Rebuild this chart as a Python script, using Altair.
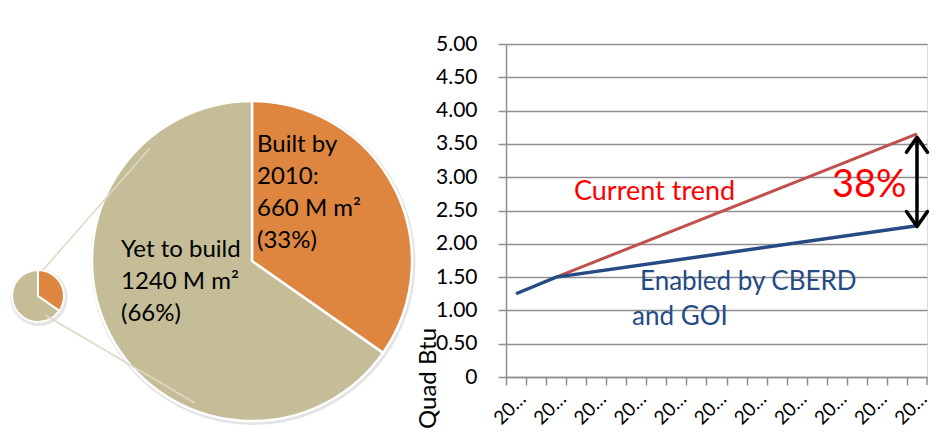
import altair as alt
import pandas as pd

# ---- data -------------------------------------------------------------
years = ["2010", "2011", "2012", "2013", "2014", "2015", "2016", "2017",
         "2018", "2019", "2020", "2021", "2022", "2023", "2024", "2025",
         "2026", "2027", "2028", "2029", "2030"]

trend_years = ["2012", "2030"]
trend_values = [1.50, 3.65]          # Quad Btu, current trend

cberd_years = ["2010", "2012", "2030"]
cberd_values = [1.25, 1.50, 2.27]    # Quad Btu, enabled by CBERD and GOI

arrow_year = "2030"
arrow_top = 3.60
arrow_bottom = 2.26

segments = ["Built by 2010", "Yet to build"]
floor_area = [660, 1240]             # million m²
segment_order = [0, 1]
segment_colors = ["#DE8640", "#C4BD97"]

built_text = ["Built by", "2010:", "660 M m²", "(33%)"]
yet_text = ["Yet to build", "1240 M m²", "(66%)"]

y_ticks = [0, 0.5, 1.0, 1.5, 2.0, 2.5, 3.0, 3.5, 4.0, 4.5, 5.0]

# ---- tables -----------------------------------------------------------
trend_df = pd.DataFrame({"year": trend_years, "value": trend_values})
cberd_df = pd.DataFrame({"year": cberd_years, "value": cberd_values})
pie_df = pd.DataFrame({"segment": segments, "area": floor_area, "order": segment_order})
arrow_df = pd.DataFrame({"year": [arrow_year], "top": [arrow_top], "bottom": [arrow_bottom]})
last_year_df = pd.DataFrame({"year": [years[-1]]})
one = pd.DataFrame({"k": [0]})

FONT = "Lato"
GRID = "#8F8F8F"
RED_LINE = "#C0504D"
BLUE_LINE = "#254A84"

WIDTH = 421
HEIGHT = 333
HALF_STEP = WIDTH / len(years) / 2

x_enc = alt.X(
    "year:O",
    scale=alt.Scale(type="band", domain=years, paddingInner=0, paddingOuter=0),
    axis=alt.Axis(
        title=None,
        # ticks sit on the band edges, labels stay centred on each year
        tickOffset=-HALF_STEP,
        labelOffset=HALF_STEP,
        labelExpr="(toNumber(datum.value) - 2010) % 2 == 0 ? '20…' : ''",
        labelAngle=-45,
        labelAlign="right",
        labelBaseline="top",
        labelFontSize=19,
        labelOverlap=False,
        labelPadding=4,
        tickSize=8,
        tickColor=GRID,
        tickWidth=1.5,
        domainColor=GRID,
        domainWidth=1.5,
        grid=False,
        labelColor="black",
    ),
)
y_scale = alt.Scale(domain=[0, 5], nice=False, zero=True)
y_axis = alt.Axis(
    values=y_ticks,
    tickCount=11,
    labelOverlap=False,
    labelExpr="datum.value == 0 ? '0' : format(datum.value, '.2f')",
    labelFontSize=21,
    labelPadding=21,
    labelColor="black",
    tickSize=8,
    tickColor=GRID,
    tickWidth=1.5,
    domainColor=GRID,
    domainWidth=1.5,
    grid=True,
    gridColor=GRID,
    gridWidth=1.5,
    title="Quad Btu",
    titleAngle=-90,
    titleX=-71,
    titleY=334,
    titleAlign="center",
    titleBaseline="alphabetic",
    titleFontSize=24,
    titleFontWeight="normal",
    titleColor="black",
)

# ---- line chart -------------------------------------------------------
trend_line = alt.Chart(trend_df).mark_line(color=RED_LINE, strokeWidth=3).encode(
    x=x_enc,
    y=alt.Y("value:Q", scale=y_scale, axis=y_axis),
)
cberd_line = alt.Chart(cberd_df).mark_line(color=BLUE_LINE, strokeWidth=3.5).encode(
    x=alt.X("year:O"),
    y=alt.Y("value:Q"),
)

# closing tick at the right end of the last year's band
end_tick = alt.Chart(last_year_df).mark_rule(color=GRID, strokeWidth=1.5).encode(
    x=alt.X("year:O", bandPosition=1),
    y=alt.value(HEIGHT),
    y2=alt.value(HEIGHT + 8),
)

arrow_shaft = alt.Chart(arrow_df).mark_rule(color="black", strokeWidth=3.5).encode(
    x=alt.X("year:O"), y=alt.Y("top:Q"), y2="bottom:Q"
)
arrow_up = alt.Chart(arrow_df).mark_point(
    shape="M-0.7,1L0,0L0.7,1", size=900, filled=False, stroke="black",
    strokeWidth=3.5, strokeCap="round", strokeJoin="round", opacity=1,
).encode(x=alt.X("year:O"), y=alt.Y("top:Q"))
arrow_down = alt.Chart(arrow_df).mark_point(
    shape="M-0.7,-1L0,0L0.7,-1", size=900, filled=False, stroke="black",
    strokeWidth=3.5, strokeCap="round", strokeJoin="round", opacity=1,
).encode(x=alt.X("year:O"), y=alt.Y("bottom:Q"))


def note(text, x, y, size, color):
    return alt.Chart(one).mark_text(
        align="left", baseline="alphabetic", font=FONT, fontSize=size, color=color
    ).encode(x=alt.value(x), y=alt.value(y), text=alt.value(text))


notes = [
    note("Current trend", 68, 156, 27, "#FF0000"),
    note("38%", 326, 153, 38, "#FF0000"),
    note("Enabled by CBERD", 134, 246, 26, BLUE_LINE),
    note("and GOI", 126, 281, 26, BLUE_LINE),
]

# ---- pie (drawn to the left of the plot area) ------------------------
theta = alt.Theta("area:Q", stack=True)
color = alt.Color("segment:N", scale=alt.Scale(domain=segments, range=segment_colors), legend=None)


def soft_shadow(cx, cy, r):
    # faint disc just behind a pie, offset down-right
    return alt.Chart(one).mark_arc(
        radius=r, theta=0, theta2=6.2832, color="#D9D9D9", opacity=0.7
    ).encode(x=alt.value(cx + 1), y=alt.value(cy + 1.5))


small_shadow = soft_shadow(-468, 252, 28.5)
big_shadow = soft_shadow(-254, 217, 162.5)

small_pie = alt.Chart(pie_df).mark_arc(radius=26, stroke="white", strokeWidth=2).encode(
    theta=theta, color=color, order=alt.Order("order:Q"),
    x=alt.value(-468), y=alt.value(252),
)
big_pie = alt.Chart(pie_df).mark_arc(radius=160, stroke="white", strokeWidth=2.5).encode(
    theta=theta, color=color, order=alt.Order("order:Q"),
    x=alt.value(-254), y=alt.value(217),
)
zoom_top = alt.Chart(one).mark_rule(color="#DDD9C3", strokeWidth=1.5).encode(
    x=alt.value(-463), y=alt.value(226), x2=alt.value(-356), y2=alt.value(104)
)
zoom_bottom = alt.Chart(one).mark_rule(color="#DDD9C3", strokeWidth=1.5).encode(
    x=alt.value(-461), y=alt.value(271), x2=alt.value(-311), y2=alt.value(359)
)
built_label = alt.Chart(one).mark_text(
    align="left", baseline="alphabetic", font=FONT, fontSize=24, lineHeight=32, color="black"
).encode(x=alt.value(-249), y=alt.value(108), text=alt.value(built_text))
yet_label = alt.Chart(one).mark_text(
    align="left", baseline="alphabetic", font=FONT, fontSize=24, lineHeight=32, color="black"
).encode(x=alt.value(-385), y=alt.value(213), text=alt.value(yet_text))

chart = alt.layer(
    trend_line, cberd_line, end_tick, arrow_shaft, arrow_up, arrow_down, *notes,
    small_shadow, big_shadow, small_pie, big_pie, zoom_top, zoom_bottom,
    built_label, yet_label,
).properties(
    width=WIDTH,
    height=HEIGHT,
    autosize=alt.AutoSizeParams(type="none"),
    padding={"left": 506, "top": 44, "right": 15, "bottom": 56},
    background="white",
).configure_view(stroke=None).configure(font=FONT)

chart.save("out.html", embed_options={"renderer": "svg", "actions": False})
